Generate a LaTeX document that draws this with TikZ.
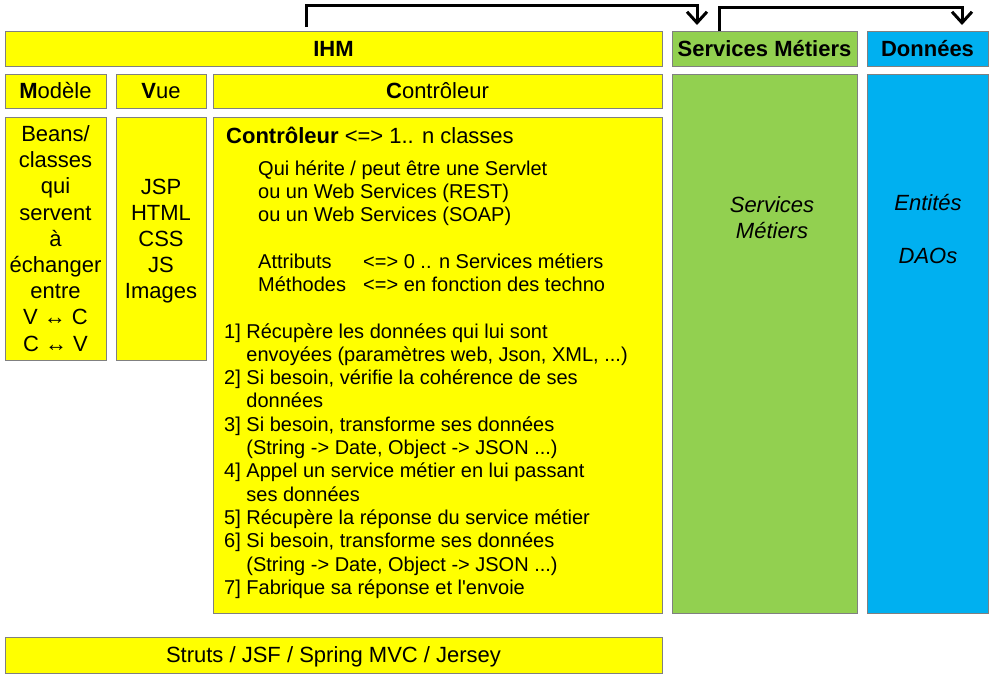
\documentclass[tikz,border=0pt]{standalone}
\usepackage{fontspec}
\setmainfont{Liberation Sans}
\usetikzlibrary{arrows.meta,calc}
\definecolor{jaune}{HTML}{FFFF00}
\definecolor{vert}{HTML}{92D050}
\definecolor{bleu}{HTML}{00B0F0}
\definecolor{bord}{HTML}{808080}
\tikzset{
  box/.style={draw=bord, line width=1pt, inner sep=0pt, outer sep=0pt, anchor=north west,
    font=\fontsize{22}{26.2}\selectfont, align=center},
  yel/.style={box, fill=jaune},
  grn/.style={box, fill=vert},
  blu/.style={box, fill=bleu},
  bigtxt/.style={inner sep=0pt, font=\fontsize{22}{26.2}\selectfont, align=center},
  smalltxt/.style={inner sep=0pt, anchor=base west, font=\fontsize{20}{23.3}\selectfont},
  conn/.style={line width=3pt, -{Straight Barb[length=11pt,width=20pt]}}
}
\begin{document}
\begin{tikzpicture}[x=1pt,y=-1pt]
\useasboundingbox (0,0) rectangle (992,686);
% headers
\node[yel, minimum width=657pt, minimum height=35pt] (ihm) at (5,31) {\textbf{IHM}};
\node[grn, minimum width=185pt, minimum height=35pt] (smh) at (672,31) {\textbf{Services Métiers}};
\node[blu, minimum width=121pt, minimum height=35pt] (donh) at (867,31) {\textbf{Données}};
\node[yel, minimum width=101pt, minimum height=34pt] (modh) at (5,74) {\textbf{M}odèle};
\node[yel, minimum width=90pt, minimum height=34pt] (vueh) at (116,74) {\textbf{V}ue};
\node[yel, minimum width=449pt, minimum height=34pt] (ctrlh) at (213,74) {\textbf{C}ontrôleur};
% bodies
\node[yel, minimum width=101pt, minimum height=243pt] (modb) at (5,117)
  {Beans/\\classes\\qui\\servent\\à\\échanger\\entre\\V ↔ C\\C ↔ V};
\node[yel, minimum width=90pt, minimum height=243pt] (vueb) at (116,117) {};
\node[yel, minimum width=449pt, minimum height=496pt] (ctrlb) at (213,117) {};
\node[grn, minimum width=185pt, minimum height=539pt] (smb) at (672,74) {};
\node[blu, minimum width=121pt, minimum height=539pt] (donb) at (867,74) {};
\node[yel, minimum width=657pt, minimum height=36pt] (struts) at (5,637) {};
% texts in columns
\node[bigtxt] (vuetxt) at (161,241) {JSP\\HTML\\CSS\\JS\\Images};
\node[bigtxt] (strutstxt) at (333.5,657) {Struts / JSF / Spring MVC / Jersey};
\node[bigtxt, font=\fontsize{22}{26.2}\selectfont\itshape] (smtxt) at (772,218) {Services\\Métiers};
\node[bigtxt, font=\fontsize{22}{26.2}\selectfont\itshape] (dontxt) at (928,229) {Entités\\\mbox{}\\DAOs};
% controller texts
\node[smalltxt, font=\fontsize{22}{26}\selectfont] (ctitle) at (226,143) {\textbf{Contrôleur} <=> 1.. n classes};
\node[smalltxt] (cqui) at (258,175) {\begin{tabular}[t]{@{}l@{}}
Qui hérite / peut être une Servlet\\
ou un Web Services (REST)\\
ou un Web Services (SOAP)
\end{tabular}};
\node[smalltxt] (cattr) at (258,268) {\begin{tabular}[t]{@{}p{105pt}@{}l@{}}
Attributs & <=> 0 .. n Services métiers\\
Méthodes & <=> en fonction des techno
\end{tabular}};
\node[smalltxt] (clist) at (224,338) {\begin{tabular}[t]{@{}l@{}}
1] Récupère les données qui lui sont\\
\phantom{1] }envoyées (paramètres web, Json, XML, ...)\\
2] Si besoin, vérifie la cohérence de ses\\
\phantom{2] }données\\
3] Si besoin, transforme ses données\\
\phantom{3] }(String -> Date, Object -> JSON ...)\\
4] Appel un service métier en lui passant\\
\phantom{4] }ses données\\
5] Récupère la réponse du service métier\\
6] Si besoin, transforme ses données\\
\phantom{6] }(String -> Date, Object -> JSON ...)\\
7] Fabrique sa réponse et l\textquotesingle envoie
\end{tabular}};
% arrows
\coordinate (a1s) at ([xshift=301pt,yshift=4pt]ihm.north west);
\coordinate (a1e) at ([xshift=25pt,yshift=6pt]smh.north west);
\coordinate (a2s) at ([xshift=47pt]smh.north west);
\coordinate (a2e) at ([xshift=95pt,yshift=6pt]donh.north west);
\draw[conn] (a1s) -- ++(0,-22) -| (a1e);
\draw[conn] (a2s) -- ++(0,-24) -| (a2e);
\end{tikzpicture}
\end{document}
